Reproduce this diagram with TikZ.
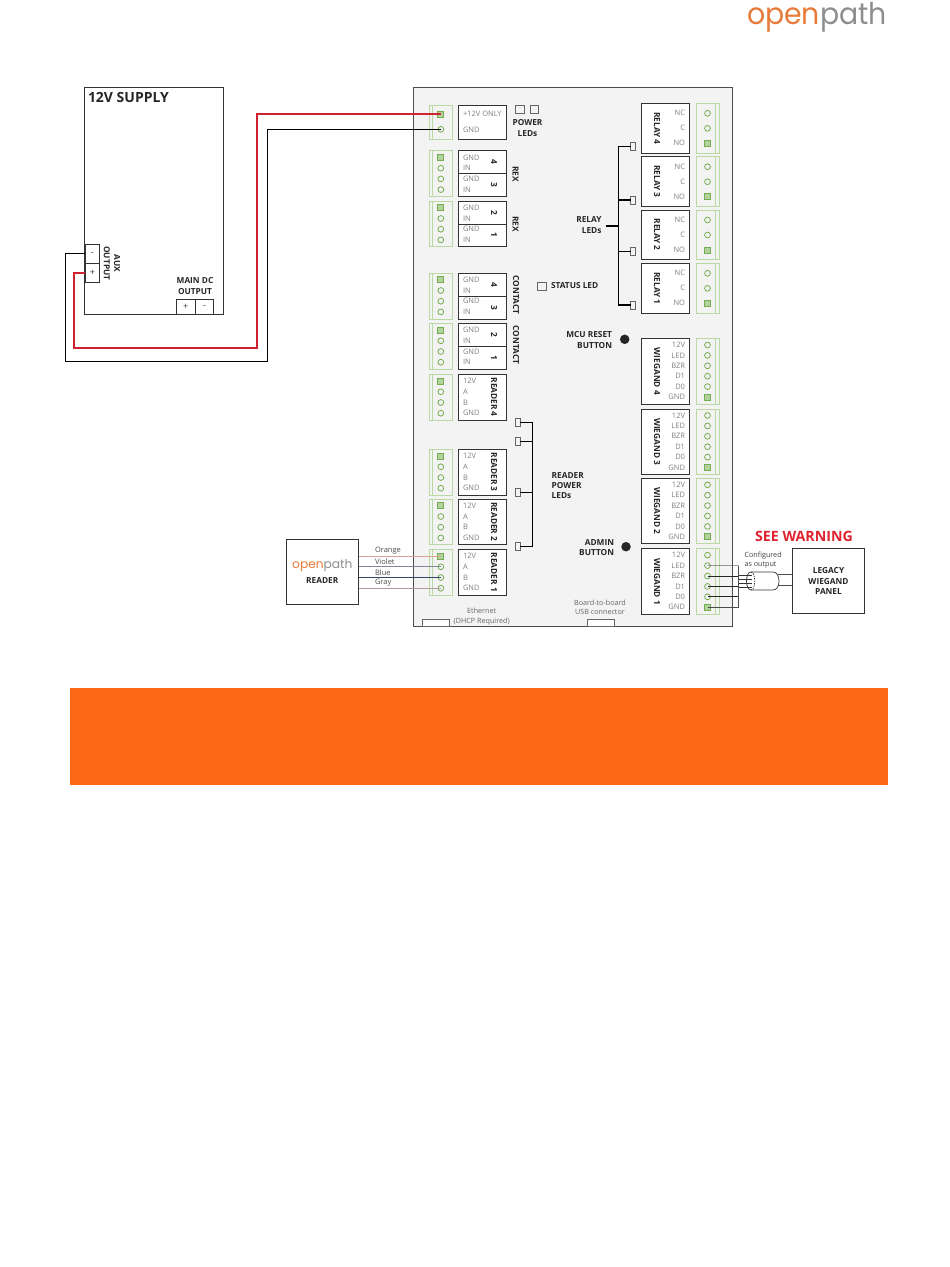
\documentclass[tikz,border=0pt]{standalone}
\usepackage{fontspec}
\usepackage{xcolor}
\setmainfont{Open Sans}
\newfontfamily\logofont{Poppins}
\definecolor{boardgray}{HTML}{F3F3F3}
\definecolor{blockgreen}{HTML}{B9D8A4}
\definecolor{pingreen}{HTML}{74AD4E}
\definecolor{bannerorange}{HTML}{FC6A17}
\definecolor{logoorange}{HTML}{E87A3A}
\definecolor{logogray}{HTML}{8E8E8E}
\definecolor{warnred}{HTML}{E0222F}
\definecolor{wirered}{HTML}{D1232F}
\definecolor{wireorange}{HTML}{D9A48F}
\definecolor{wireviolet}{HTML}{84849C}
\definecolor{wireblue}{HTML}{34486A}
\definecolor{wiregray}{HTML}{B09C9C}
\tikzstyle{plain} = [inner sep=0pt, outer sep=0pt]
\tikzstyle{whitebox} = [plain, draw=black!80, line width=1pt, fill=white]
\tikzstyle{grnblock} = [plain, draw=blockgreen, line width=0.9pt]
\tikzstyle{term} = [plain, circle, draw=pingreen, line width=0.8pt, minimum width=5.8pt]
\tikzstyle{termsq} = [plain, draw=pingreen, fill=pingreen!55, line width=1pt, minimum width=6pt, minimum height=6pt]
\tikzstyle{led} = [plain, draw=black!60, line width=0.5pt, fill=boardgray, minimum width=5pt, minimum height=8pt]
\tikzstyle{pinlbl} = [plain, text=black!50, font=\fontsize{7.5}{9}\selectfont]
\tikzstyle{signlbl} = [plain, text=black!80, font=\fontsize{9}{9}\selectfont]
\tikzstyle{boldlbl} = [plain, text=black!85, font=\fontsize{8.3}{10.2}\selectfont\bfseries]
\tikzstyle{thinlbl} = [plain, text=black!60, font=\fontsize{7.2}{9.4}\selectfont, align=center]
\tikzstyle{tieline} = [black, line width=1.5pt]
\tikzstyle{dot} = [plain, circle, fill=black!85, minimum width=9.5pt]
% box from its corners
\newcommand{\boxat}[6]{\node[#1, anchor=north west, minimum width={(#5-#3)*1pt}, minimum height={(#6-#4)*1pt}] (#2) at (#3,#4) {};}
% green terminal block: name, x, top, bottom, pins, offset, spacing, square pin
\newcommand{\pinblock}[8]{
    \pgfmathsetmacro\blockright{#2+23}
    \pgfmathsetmacro\innerx{#2<600 ? #2+2.5 : #2+19}
    \boxat{grnblock}{#1}{#2}{#3}{\blockright}{#4}
    \draw[blockgreen, line width=0.6pt] (\innerx,#3) -- (\innerx,#4);
    \foreach \i in {1,...,#5} {
        \ifnum\i=#8
            \node[termsq] (#1-\i) at ({#2+11.5},{#3+#6+(\i-1)*#7}) {};
        \else
            \node[term] (#1-\i) at ({#2+11.5},{#3+#6+(\i-1)*#7}) {};
        \fi
    }
}

\begin{document}
\begin{tikzpicture}[x=1pt, y=-1pt]
\useasboundingbox (0,0) rectangle (950,1267);

% logo
\node[plain, anchor=base west, xscale=0.945] (logo) at (747,24) {\logofont\fontsize{30}{30}\selectfont\textcolor{logoorange}{open}\textcolor{logogray}{path}};

% power supply
\boxat{whitebox}{supply}{84.3}{87.3}{223.3}{314}
\node[plain, anchor=west, text=black!85, font=\fontsize{14}{16}\selectfont\bfseries] (supplytxt) at (88,97.5) {12V SUPPLY};
\boxat{whitebox}{auxminus}{85}{244.3}{99.7}{263.3}
\boxat{whitebox}{auxplus}{85}{263.3}{99.7}{282.3}
\boxat{whitebox}{mainplus}{176.3}{299.3}{195.3}{314}
\boxat{whitebox}{mainminus}{195.3}{299.3}{213.7}{314}
\node[signlbl] (auxminustxt) at (auxminus) {-};
\node[signlbl] (auxplustxt) at (auxplus) {+};
\node[signlbl] (mainplustxt) at (mainplus) {+};
\node[signlbl] (mainminustxt) at (mainminus) {-};
\node[boldlbl, rotate=-90, align=center] (auxtxt) at (112,263.3) {AUX\\OUTPUT};
\node[boldlbl, align=center] (maintxt) at (195,286) {MAIN DC\\OUTPUT};

% board
\boxat{plain, draw=black!70, line width=0.8pt, fill=boardgray}{board}{413.5}{87.5}{732}{626}
\boxat{plain, draw=black!60, line width=0.7pt, fill=white}{ethport}{422.3}{619}{449.3}{626}
\boxat{plain, draw=black!60, line width=0.7pt, fill=white}{usbport}{587.3}{619}{614}{626}
\node[thinlbl] (ethtxt) at (481.7,616.6) {Ethernet\\(DHCP Required)};
\node[thinlbl] (usbtxt) at (600,607) {Board-to-board\\USB connector};

% left side terminal blocks
\pinblock{pw}{429.3}{105}{139}{2}{9.3}{15}{1}
\foreach \nm/\t/\b in {rx34/150.7/196.7, rx12/201/246.7, ct34/273/319, ct12/323.3/369.3, rd4/374.3/420, rd3/449.3/495, rd2/499/544.3, rd1/549.3/595.3} {
    \pinblock{\nm}{429.3}{\t}{\b}{4}{6.8}{10.7}{1}
}

% right side terminal blocks
\foreach \nm/\t/\b/\lbl in {ry4/103.3/153.3/RELAY 4, ry3/156.7/206/RELAY 3, ry2/210/259.3/RELAY 2, ry1/263.3/313.3/RELAY 1} {
    \pinblock{\nm}{696}{\t}{\b}{3}{10}{15}{3}
    \boxat{whitebox}{\nm box}{641}{\t}{689.3}{\b}
    \node[boldlbl, rotate=-90] (\nm txt) at ([xshift=-8pt]\nm box.center) {\lbl};
    \foreach \p [count=\i] in {NC,C,NO} {
        \node[pinlbl, anchor=east] (\nm t\i) at (685,{\t+10+(\i-1)*15}) {\p};
    }
}
\foreach \nm/\t/\b/\lbl in {wg4/338.5/404.3/WIEGAND 4, wg3/409/474.3/WIEGAND 3, wg2/478.3/543.7/WIEGAND 2, wg1/548.7/614.3/WIEGAND 1} {
    \pinblock{\nm}{696}{\t}{\b}{6}{6.5}{10.4}{6}
    \boxat{whitebox}{\nm box}{641}{\t}{689.3}{\b}
    \node[boldlbl, rotate=-90] (\nm txt) at ([xshift=-8pt]\nm box.center) {\lbl};
    \foreach \p [count=\i] in {12V,LED,BZR,D1,D0,GND} {
        \node[pinlbl, anchor=east] (\nm t\i) at (685,{\t+6.5+(\i-1)*10.4}) {\p};
    }
}

% left side white boxes
\boxat{whitebox}{pwbox}{458.3}{105}{506.7}{139}
\node[pinlbl, anchor=west] (pwt1) at (463,114.3) {+12V ONLY};
\node[pinlbl, anchor=west] (pwt2) at (463,129.8) {GND};
\foreach \nm/\t/\m/\b/\hi/\lo in {rx34/150.7/173.7/196.7/4/3, rx12/201/224/246.7/2/1, ct34/273/296/319/4/3, ct12/323.3/346.3/369.3/2/1} {
    \boxat{whitebox}{\nm boxa}{458.3}{\t}{506.7}{\m}
    \boxat{whitebox}{\nm boxb}{458.3}{\m}{506.7}{\b}
    \node[boldlbl, rotate=-90] (\nm hi) at ([xshift=11.5pt]\nm boxa.center) {\hi};
    \node[boldlbl, rotate=-90] (\nm lo) at ([xshift=11.5pt]\nm boxb.center) {\lo};
    \foreach \p [count=\i] in {GND,IN,GND,IN} {
        \node[pinlbl, anchor=west] (\nm t\i) at (463,{\t+6.8+(\i-1)*10.7}) {\p};
    }
}
\foreach \nm/\t/\b/\lbl in {rd4/374.3/420/READER 4, rd3/449.3/495/READER 3, rd2/499/544.3/READER 2, rd1/549.3/595.3/READER 1} {
    \boxat{whitebox}{\nm box}{458.3}{\t}{506.7}{\b}
    \node[boldlbl, rotate=-90] (\nm txt) at ([xshift=11.5pt]\nm box.center) {\lbl};
    \foreach \p [count=\i] in {12V,A,B,GND} {
        \node[pinlbl, anchor=west] (\nm t\i) at (463,{\t+6.8+(\i-1)*10.7}) {\p};
    }
}

% board labels
\node[led, minimum width=9.3pt] (pwled1) at (519.7,109) {};
\node[led, minimum width=8.7pt] (pwled2) at (534.3,109) {};
\node[boldlbl, align=center] (pwledtxt) at (527.5,128) {POWER\\LEDs};
\node[boldlbl, rotate=-90] (rextxt1) at (515.7,174) {REX};
\node[boldlbl, rotate=-90] (rextxt2) at (515.7,224) {REX};
\node[boldlbl, rotate=-90] (cttxt1) at (516,295) {CONTACT};
\node[boldlbl, rotate=-90] (cttxt2) at (516,345) {CONTACT};
\node[led, minimum width=9.3pt] (statusled) at (542,286.5) {};
\node[boldlbl, anchor=west] (statustxt) at (551,286) {STATUS LED};

% relay leds
\node[boldlbl, align=right, anchor=east] (relaytxt) at (601.5,225) {RELAY\\LEDs};
\coordinate (relaybus) at (618.3,226);
\foreach \i/\y in {1/146.7, 2/200, 3/251.7, 4/305} {
    \node[led] (ryled\i) at (633.2,\y) {};
    \draw[tieline] (ryled\i.west) -- (ryled\i -| relaybus);
}
\draw[tieline] (ryled1 -| relaybus) -- (ryled4 -| relaybus);
\draw[tieline] (relaytxt.east |- relaybus) ++(4pt,0) -- (relaybus);

% reader power leds
\node[boldlbl, align=left, anchor=west] (rdledtxt) at (551.7,485.3) {READER\\POWER\\LEDs};
\coordinate (rdbus) at (532.7,485);
\foreach \i/\y in {1/422.7, 2/441.7, 3/492.7, 4/546.7} {
    \node[led] (rdled\i) at (517.7,\y) {};
    \draw[tieline] (rdled\i.east) -- (rdled\i -| rdbus);
}
\draw[tieline] (rdled1 -| rdbus) -- (rdled4 -| rdbus);

% buttons
\node[boldlbl, align=right, anchor=east] (mcutxt) at (612,340) {MCU RESET\\BUTTON};
\node[dot] (mcubtn) at (624.7,339.3) {};
\node[boldlbl, align=right, anchor=east] (admintxt) at (614,547.3) {ADMIN\\BUTTON};
\node[dot] (adminbtn) at (626,546.7) {};

% supply wires
\coordinate (redA) at (257.3,347.7);
\coordinate (redB) at (74,272.8);
\coordinate (blkA) at (267.7,361.7);
\coordinate (blkB) at (65.3,253.8);
\draw[wirered, line width=1.8pt] (pw-1.center) -| (redA) -| (redB) -- (auxplus.west);
\draw[black, line width=1.3pt] (pw-2.center) -| (blkA) -| (blkB) -- (auxminus.west);

% reader
\boxat{whitebox}{reader}{286}{539}{358.7}{604}
\node[plain, font=\logofont\fontsize{12.2}{13}\selectfont] (readerlogo) at (322.3,566) {\textcolor{logoorange}{open}\textcolor{logogray}{path}};
\node[boldlbl] (readertxt) at (322.3,580.3) {READER};
\foreach \i/\c/\w/\y in {1/wireorange/Orange/551, 2/wireviolet/Violet/562, 3/wireblue/Blue/572.3, 4/wiregray/Gray/582.5} {
    \draw[\c, line width=0.8pt] (reader.east |- rd1-\i) -- (rd1-\i.center);
    \node[pinlbl, anchor=west, text=black!70] (wire\i) at (375,\y) {\w};
}

% legacy panel
\boxat{whitebox}{legacy}{792}{548.3}{864.7}{613.3}
\node[boldlbl, align=center] (legacytxt) at (828.5,581) {LEGACY\\WIEGAND\\PANEL};
\node[plain, text=warnred, font=\fontsize{14.2}{16}\selectfont\bfseries] (warntxt) at (804,536) {SEE WARNING};
\node[thinlbl, align=left, anchor=west, text=black!75] (cfgtxt) at (744.5,560) {Configured\\as output};
\coordinate (wgbus) at (738.7,565.6);
\draw[black!60, line width=0.7pt] (wg1-2.center) -- (wgbus);
\foreach \i in {3,4,5} {
    \draw[black!85, line width=0.8pt] (wg1-\i.center) -| (wgbus);
}
\draw[black!70, line width=0.7pt] (wg1-6.center) -| (wgbus);
% cable
\draw[black!80, line width=0.7pt, fill=white] (751,572) -- (773,572) .. controls (781,572) and (781,590) .. (773,590) -- (751,590) .. controls (745,590) and (745,572) .. (751,572);
\draw[black!80, line width=0.7pt, dash pattern=on 1.5pt off 1pt] (751,572) .. controls (756,572) and (756,590) .. (751,590);
\foreach \i/\y in {1/575, 2/579, 3/583, 4/587} {
    \coordinate (cablein\i) at (752,\y);
    \draw[black!80, line width=0.7pt] (wgbus |- cablein\i) -- (cablein\i);
}
\foreach \i/\y in {1/574.5, 2/585} {
    \coordinate (cableout\i) at (777.5,\y);
    \draw[black!70, line width=0.7pt] (cableout\i) -- (cableout\i -| legacy.west);
}

% warning banner
\boxat{plain, fill=bannerorange}{banner}{70}{688}{888}{785}
\end{tikzpicture}
\end{document}
